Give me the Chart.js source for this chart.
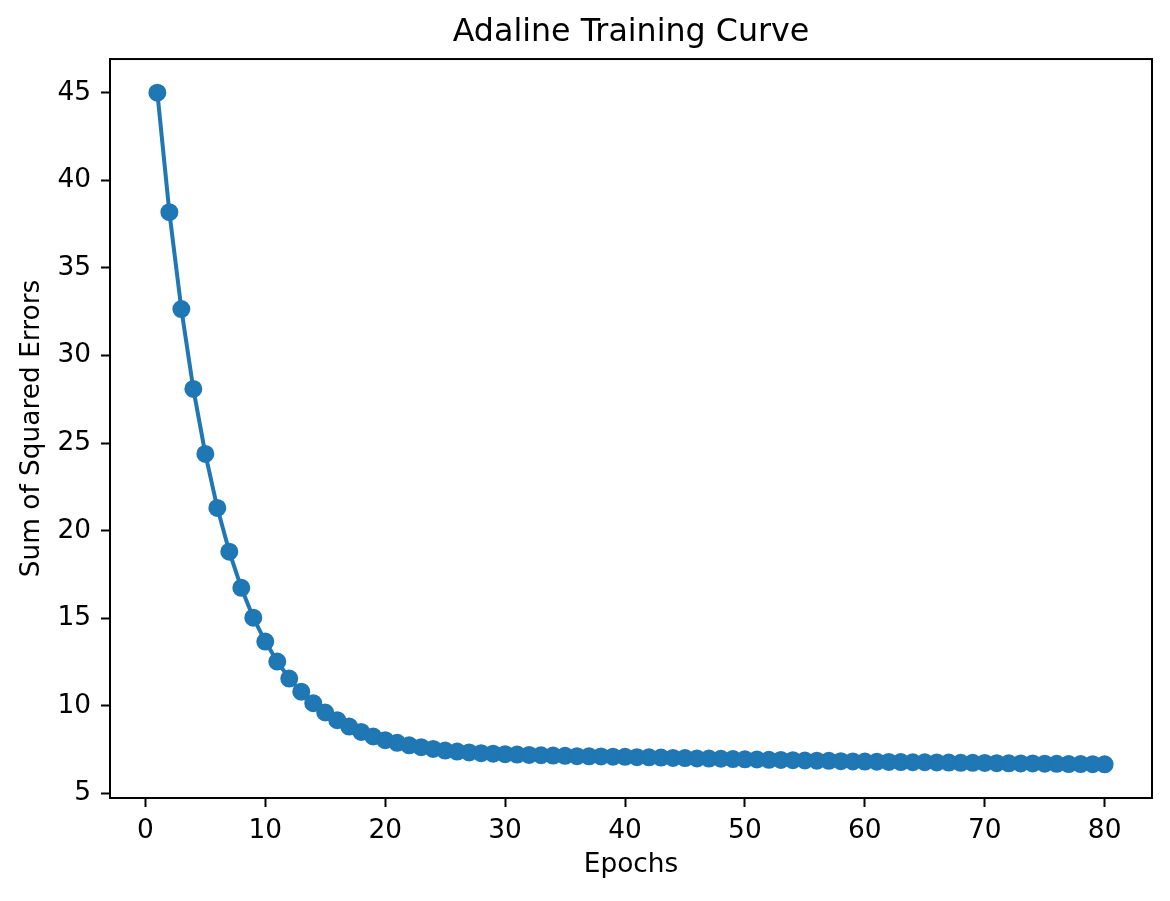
<!DOCTYPE html>
<html>
<head>
<meta charset="utf-8">
<title>Adaline Training Curve</title>
<script src="https://cdn.jsdelivr.net/npm/chart.js@4.4.1/dist/chart.umd.min.js"></script>
<style>
  html, body { margin: 0; padding: 0; background: #fff; }
  #wrap { width: 1170px; height: 901px; }
</style>
</head>
<body>
<div id="wrap"><canvas id="lines-graph" width="1170" height="901"></canvas></div>
<script>
// epochs on x, sum of squared errors on y
var epochs = [1, 2, 3, 4, 5, 6, 7, 8, 9, 10,
  11, 12, 13, 14, 15, 16, 17, 18, 19, 20,
  21, 22, 23, 24, 25, 26, 27, 28, 29, 30,
  31, 32, 33, 34, 35, 36, 37, 38, 39, 40,
  41, 42, 43, 44, 45, 46, 47, 48, 49, 50,
  51, 52, 53, 54, 55, 56, 57, 58, 59, 60,
  61, 62, 63, 64, 65, 66, 67, 68, 69, 70,
  71, 72, 73, 74, 75, 76, 77, 78, 79, 80];

var sse = [45.00, 38.18, 32.65, 28.09, 24.38, 21.30, 18.80, 16.74, 15.03, 13.67,
  12.53, 11.56, 10.81, 10.15, 9.62, 9.18, 8.82, 8.51, 8.25, 8.04,
  7.89, 7.75, 7.64, 7.54, 7.45, 7.39, 7.34, 7.30, 7.27, 7.24,
  7.22, 7.20, 7.18, 7.16, 7.15, 7.13, 7.12, 7.11, 7.10, 7.09,
  7.07, 7.06, 7.05, 7.03, 7.02, 7.00, 6.99, 6.98, 6.96, 6.95,
  6.94, 6.92, 6.91, 6.90, 6.88, 6.87, 6.86, 6.84, 6.83, 6.82,
  6.81, 6.80, 6.79, 6.78, 6.78, 6.77, 6.76, 6.75, 6.75, 6.74,
  6.73, 6.72, 6.71, 6.71, 6.70, 6.69, 6.68, 6.68, 6.67, 6.66];

var xTicks = [0, 10, 20, 30, 40, 50, 60, 70, 80];
var yTicks = [5, 10, 15, 20, 25, 30, 35, 40, 45];

var points = [];
for (var i = 0; i < epochs.length; i++) {
  points.push({ x: epochs[i], y: sse[i] });
}

Chart.defaults.font.family = "'DejaVu Sans', sans-serif";
Chart.defaults.color = "#000";

// top and right spines, matplotlib style box
var frame = {
  id: "frame",
  afterDraw: function(chart) {
    var a = chart.chartArea;
    var ctx = chart.ctx;
    ctx.save();
    ctx.strokeStyle = "#000";
    ctx.lineWidth = 2;
    ctx.strokeRect(a.left, a.top, a.right - a.left, a.bottom - a.top);
    ctx.restore();
  }
};

var ctx = document.getElementById("lines-graph").getContext("2d");
var LineChart = new Chart(ctx, {
  type: "line",
  data: {
    datasets: [{
      label: "SSE",
      data: points,
      borderColor: "#1f77b4",
      backgroundColor: "#1f77b4",
      borderWidth: 4,
      pointRadius: 8,
      pointBorderWidth: 2,
      pointBorderColor: "#1f77b4",
      pointBackgroundColor: "#1f77b4",
      fill: false,
      tension: 0
    }]
  },
  options: {
    responsive: false,
    devicePixelRatio: 1,
    animation: false,
    layout: { padding: { left: 0, right: 18, top: 0, bottom: 0 } },
    plugins: {
      legend: { display: false },
      tooltip: { enabled: false },
      title: {
        display: true,
        fullSize: false, // center over the plot area, not the whole canvas
        text: "Adaline Training Curve",
        font: { size: 31.7, weight: "normal" },
        color: "#000",
        padding: { top: 14, bottom: 7 }
      }
    },
    scales: {
      x: {
        type: "linear",
        min: -2.95,
        max: 83.95,
        afterBuildTicks: function(scale) {
          scale.ticks = xTicks.map(function(v) { return { value: v }; });
        },
        afterFit: function(scale) { scale.height = 103; },
        ticks: { font: { size: 26.4 }, color: "#000", padding: 8, maxRotation: 0, autoSkip: false },
        grid: { drawOnChartArea: false, drawTicks: true, tickLength: 9, tickWidth: 2, tickColor: "#000" },
        border: { display: true, color: "#000", width: 2 },
        title: { display: true, text: "Epochs", font: { size: 26.4 }, color: "#000", padding: { top: 0, bottom: 20 } }
      },
      y: {
        type: "linear",
        min: 4.74,
        max: 46.92,
        afterBuildTicks: function(scale) {
          scale.ticks = yTicks.map(function(v) { return { value: v }; });
        },
        afterFit: function(scale) { scale.width = 110; },
        ticks: { font: { size: 26.4 }, color: "#000", padding: 10, autoSkip: false },
        grid: { drawOnChartArea: false, drawTicks: true, tickLength: 9, tickWidth: 2, tickColor: "#000" },
        border: { display: true, color: "#000", width: 2 },
        title: { display: true, text: "Sum of Squared Errors", font: { size: 26.4 }, color: "#000", padding: { top: 16, bottom: 0 } }
      }
    }
  },
  plugins: [frame]
});
</script>
</body>
</html>
